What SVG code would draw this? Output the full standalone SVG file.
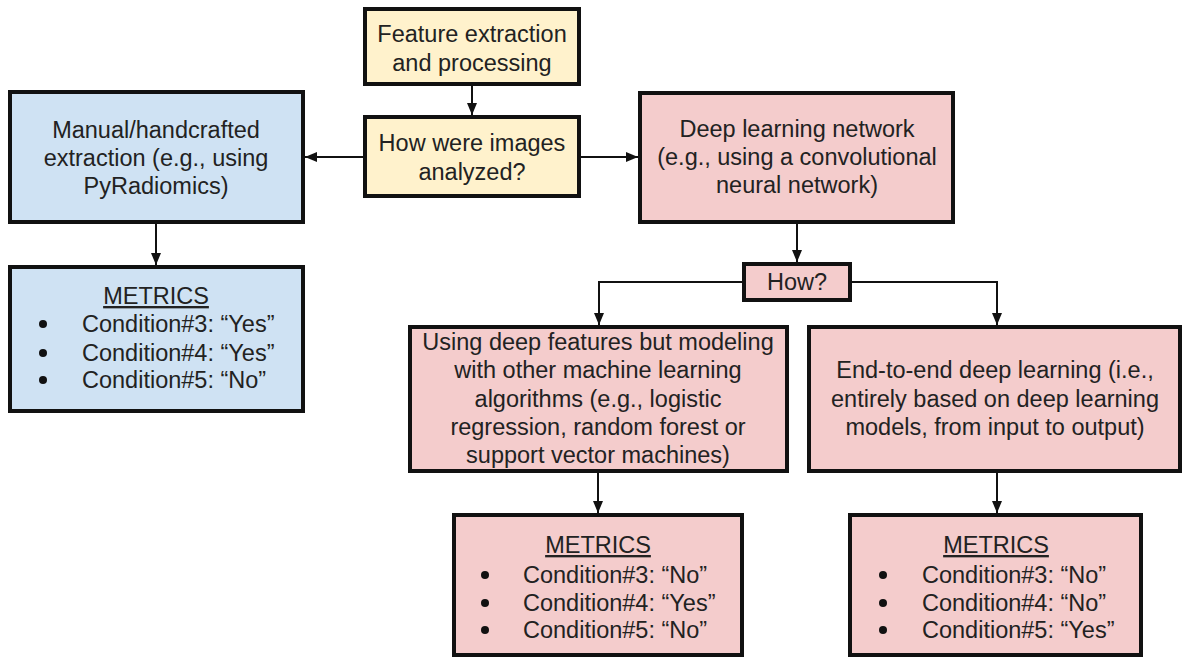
<svg xmlns="http://www.w3.org/2000/svg" width="1184" height="660" viewBox="0 0 1184 660">
<defs>
<style>
.box{stroke:#111;stroke-width:4}
.y{fill:#fff2cc}.b{fill:#cfe2f3}.p{fill:#f4cccc}
text{font-family:"Liberation Sans",Arial,sans-serif;font-size:23.5px;fill:#222}
.c{text-anchor:middle}
.u{text-decoration:underline}
.con{fill:none;stroke:#111;stroke-width:2}
.dot{fill:#111}
</style>
<marker id="ah" markerUnits="userSpaceOnUse" markerWidth="12" markerHeight="12" viewBox="0 0 12 12" refX="12" refY="6" orient="auto">
<path d="M0,1 L12,6 L0,11 Z" fill="#111"/>
</marker>
</defs>
<rect width="1184" height="660" fill="#fff"/>
<g id="connectors">
<line class="con" x1="472" y1="86" x2="472" y2="115" marker-end="url(#ah)"/>
<line class="con" x1="363" y1="157" x2="305" y2="157" marker-end="url(#ah)"/>
<line class="con" x1="581" y1="157" x2="638" y2="157" marker-end="url(#ah)"/>
<line class="con" x1="156" y1="224" x2="156" y2="265" marker-end="url(#ah)"/>
<line class="con" x1="797" y1="224" x2="797" y2="262" marker-end="url(#ah)"/>
<polyline class="con" points="742,282 599,282 599,325" marker-end="url(#ah)"/>
<polyline class="con" points="852,282 997,282 997,325" marker-end="url(#ah)"/>
<line class="con" x1="598" y1="473" x2="598" y2="513" marker-end="url(#ah)"/>
<line class="con" x1="997" y1="473" x2="997" y2="513" marker-end="url(#ah)"/>
</g>
<g id="feature">
<rect class="box y" x="365" y="9" width="214" height="75"/>
<text class="c" x="472" y="42">Feature extraction</text>
<text class="c" x="472" y="71">and processing</text>
</g>
<g id="how-analyzed">
<rect class="box y" x="365" y="117" width="214" height="79"/>
<text class="c" x="472" y="151">How were images</text>
<text class="c" x="472" y="180">analyzed?</text>
</g>
<g id="manual">
<rect class="box b" x="10" y="92" width="293" height="130"/>
<text class="c" x="156" y="138">Manual/handcrafted</text>
<text class="c" x="156" y="166">extraction (e.g., using</text>
<text class="c" x="156" y="194">PyRadiomics)</text>
</g>
<g id="metrics-manual">
<rect class="box b" x="10" y="267" width="293" height="144"/>
<text class="c u" x="156" y="304">METRICS</text>
<circle class="dot" cx="43" cy="324" r="4"/>
<circle class="dot" cx="43" cy="353" r="4"/>
<circle class="dot" cx="43" cy="380" r="4"/>
<text x="82" y="332">Condition#3: “Yes”</text>
<text x="82" y="361">Condition#4: “Yes”</text>
<text x="82" y="388">Condition#5: “No”</text>
</g>
<g id="deep">
<rect class="box p" x="640" y="93" width="313" height="129"/>
<text class="c" x="797" y="137">Deep learning network</text>
<text class="c" x="797" y="165">(e.g., using a convolutional</text>
<text class="c" x="797" y="193">neural network)</text>
</g>
<g id="how">
<rect class="box p" x="744" y="264" width="106" height="36"/>
<text class="c" x="797" y="290">How?</text>
</g>
<g id="deep-features">
<rect class="box p" x="410" y="327" width="377" height="144"/>
<text class="c" x="598" y="350">Using deep features but modeling</text>
<text class="c" x="598" y="378">with other machine learning</text>
<text class="c" x="598" y="407">algorithms (e.g., logistic</text>
<text class="c" x="598" y="435">regression, random forest or</text>
<text class="c" x="598" y="463">support vector machines)</text>
</g>
<g id="end-to-end">
<rect class="box p" x="809" y="327" width="371" height="144"/>
<text class="c" x="995" y="378">End-to-end deep learning (i.e.,</text>
<text class="c" x="995" y="407">entirely based on deep learning</text>
<text class="c" x="995" y="435">models, from input to output)</text>
</g>
<g id="metrics-deep-features">
<rect class="box p" x="454" y="515" width="288" height="140"/>
<text class="c u" x="598" y="553">METRICS</text>
<circle class="dot" cx="485" cy="575" r="4"/>
<circle class="dot" cx="485" cy="603" r="4"/>
<circle class="dot" cx="485" cy="630" r="4"/>
<text x="523" y="583">Condition#3: “No”</text>
<text x="523" y="611">Condition#4: “Yes”</text>
<text x="523" y="638">Condition#5: “No”</text>
</g>
<g id="metrics-end-to-end">
<rect class="box p" x="850" y="515" width="291" height="140"/>
<text class="c u" x="996" y="553">METRICS</text>
<circle class="dot" cx="883" cy="575" r="4"/>
<circle class="dot" cx="883" cy="603" r="4"/>
<circle class="dot" cx="883" cy="630" r="4"/>
<text x="922" y="583">Condition#3: “No”</text>
<text x="922" y="611">Condition#4: “No”</text>
<text x="922" y="638">Condition#5: “Yes”</text>
</g>
</svg>
